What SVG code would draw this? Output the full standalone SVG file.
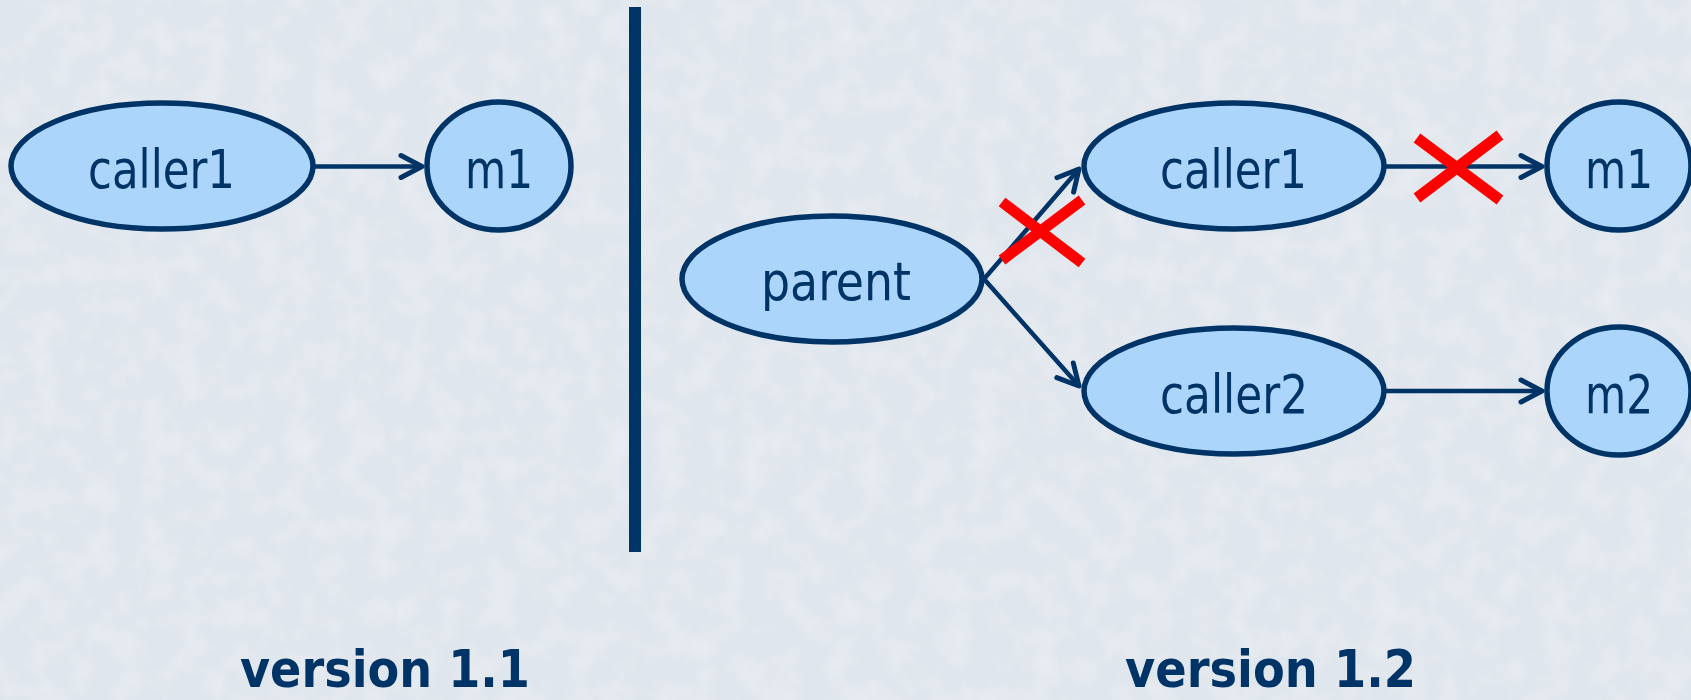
<svg xmlns="http://www.w3.org/2000/svg" width="1691" height="700" viewBox="0 0 1691 700">
  <defs>
    <style>
      .node { fill: #ABD5FB; stroke: #003366; stroke-width: 5.5; }
      .lbl { font-family: "DejaVu Sans Condensed", "DejaVu Sans", sans-serif; font-size: 53px; fill: #003366; }
      .edge { stroke: #003366; stroke-width: 4.5; fill: none; marker-end: url(#arr); }
      .cross { stroke: #FF0000; stroke-width: 11; fill: none; }
      .ver { font-family: "DejaVu Sans", sans-serif; font-weight: bold; font-size: 52px; fill: #003366; }
    </style>
    <marker id="arr" markerUnits="userSpaceOnUse" markerWidth="40" markerHeight="40" viewBox="-30 -20 40 40" refX="0" refY="0" orient="auto">
      <path d="M-21,-11 L0,0 L-21,11" fill="none" stroke="#003366" stroke-width="5" stroke-linecap="round" stroke-linejoin="round"/>
    </marker>
    <filter id="paper" x="0" y="0" width="100%" height="100%">
      <feTurbulence type="fractalNoise" baseFrequency="0.035" numOctaves="3" seed="4" result="n"/>
      <feColorMatrix in="n" type="matrix" values="0 0 0 0 1  0 0 0 0 1  0 0 0 0 1  0 0 0 0.9 -0.35"/>
    </filter>
  </defs>
  <rect x="0" y="0" width="1691" height="700" fill="#E0E6ED"/>
  <rect x="0" y="0" width="1691" height="700" fill="#FFFFFF" filter="url(#paper)" opacity="0.6"/>

  <g id="connectors">
    <line class="edge" x1="314" y1="166.5" x2="422" y2="166.5"/>
    <line class="edge" x1="984" y1="279" x2="1079" y2="169"/>
    <line class="edge" x1="984" y1="279" x2="1079" y2="386"/>
    <line class="edge" x1="1384" y1="166.5" x2="1542" y2="166.5"/>
    <line class="edge" x1="1384" y1="391" x2="1542" y2="391"/>
  </g>

  <g id="divider">
    <rect x="629" y="7" width="12" height="545" fill="#003366"/>
  </g>

  <g id="v11-caller1">
    <ellipse class="node" cx="162" cy="166" rx="151" ry="63"/>
    <text class="lbl" x="88" y="188" textLength="147" lengthAdjust="spacingAndGlyphs">caller1</text>
  </g>
  <g id="v11-m1">
    <ellipse class="node" cx="499" cy="166" rx="72" ry="64"/>
    <text class="lbl" x="465" y="188" textLength="68" lengthAdjust="spacingAndGlyphs">m1</text>
  </g>

  <g id="v12-parent">
    <ellipse class="node" cx="832" cy="279" rx="150" ry="63"/>
    <text class="lbl" x="761" y="300" textLength="150" lengthAdjust="spacingAndGlyphs">parent</text>
  </g>
  <g id="v12-caller1">
    <ellipse class="node" cx="1234" cy="166" rx="150" ry="63"/>
    <text class="lbl" x="1160" y="188" textLength="147" lengthAdjust="spacingAndGlyphs">caller1</text>
  </g>
  <g id="v12-caller2">
    <ellipse class="node" cx="1234" cy="391" rx="150" ry="63"/>
    <text class="lbl" x="1160" y="413" textLength="148" lengthAdjust="spacingAndGlyphs">caller2</text>
  </g>
  <g id="v12-m1">
    <ellipse class="node" cx="1619" cy="166" rx="72" ry="64"/>
    <text class="lbl" x="1585" y="188" textLength="68" lengthAdjust="spacingAndGlyphs">m1</text>
  </g>
  <g id="v12-m2">
    <ellipse class="node" cx="1619" cy="391" rx="72" ry="64"/>
    <text class="lbl" x="1585" y="413" textLength="68" lengthAdjust="spacingAndGlyphs">m2</text>
  </g>

  <g id="crosses">
    <line class="cross" x1="1002" y1="202" x2="1082" y2="263"/>
    <line class="cross" x1="1002" y1="260" x2="1082" y2="200"/>
    <line class="cross" x1="1417" y1="138" x2="1500" y2="200"/>
    <line class="cross" x1="1417" y1="198" x2="1500" y2="135"/>
  </g>

  <g id="labels">
    <text class="ver" x="240" y="687" textLength="290" lengthAdjust="spacingAndGlyphs">version 1.1</text>
    <text class="ver" x="1125" y="687" textLength="291" lengthAdjust="spacingAndGlyphs">version 1.2</text>
  </g>
</svg>
